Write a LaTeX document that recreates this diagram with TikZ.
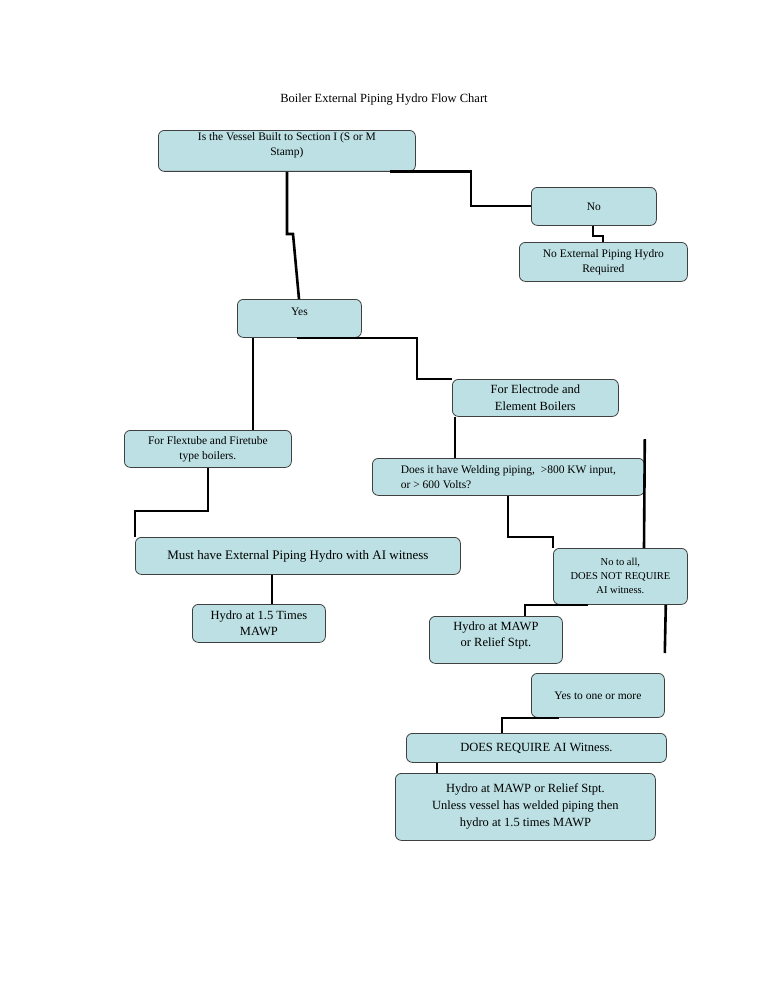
\documentclass[tikz,border=0pt]{standalone}
\usepackage{fontspec}
\setmainfont{Liberation Serif}
\begin{document}
\begin{tikzpicture}[x=1pt,y=-1pt,
  box/.style={draw=black!75,line width=0.8pt,fill=boxc,rounded corners=6pt,anchor=north west,align=center,inner sep=2pt,font=\fontsize{11.5}{15}\selectfont},
  wire/.style={line width=2.6pt,black}]
\definecolor{boxc}{HTML}{BCE0E3}
\useasboundingbox (0,0) rectangle (768,994);
\node[font=\fontsize{12.5}{15}\selectfont] (title) at (384,100) {Boiler External Piping Hydro Flow Chart};
\node[box,minimum width=257,minimum height=38,text depth=14pt] (q) at (158,130) {Is the Vessel Built to Section I (S or M\\Stamp)};
\node[box,minimum width=125,minimum height=38] (no) at (531,187) {No};
\node[box,minimum width=168,minimum height=39] (none) at (519,242) {No External Piping Hydro\\Required};
\node[box,minimum width=124,minimum height=38,text depth=14pt] (yes) at (237,299) {Yes};
\node[box,minimum width=166,minimum height=37,font=\fontsize{12.5}{17}\selectfont] (elec) at (452,379) {For Electrode and\\Element Boilers};
\node[box,minimum width=167,minimum height=37] (flex) at (124,430) {For Flextube and Firetube\\type boilers.};
\node[box,minimum width=272,minimum height=37,align=left] (weld) at (372,458) {Does it have Welding piping,\ \ >800 KW input,\\or > 600 Volts?};
\node[box,minimum width=325,minimum height=37,font=\fontsize{13}{15}\selectfont] (must) at (135,537) {Must have External Piping Hydro with AI witness};
\node[box,minimum width=134,minimum height=56,font=\fontsize{10.5}{14}\selectfont] (noall) at (553,548) {No to all,\\DOES NOT REQUIRE\\AI witness.};
\node[box,minimum width=133,minimum height=38,font=\fontsize{12.5}{16}\selectfont] (h15) at (192,604) {Hydro at 1.5 Times\\MAWP};
\node[box,minimum width=133,minimum height=47,text depth=12pt,font=\fontsize{12.5}{16}\selectfont] (hm) at (429,616) {Hydro at MAWP\\or Relief Stpt.};
\node[box,minimum width=133,minimum height=44] (yes1) at (531,673) {Yes to one or more};
\node[box,minimum width=260,minimum height=29,font=\fontsize{12.5}{15}\selectfont] (req) at (406,733) {DOES REQUIRE AI Witness.};
\node[box,minimum width=260,minimum height=67,font=\fontsize{12.5}{17}\selectfont] (final) at (395,773) {Hydro at MAWP or Relief Stpt.\\Unless vessel has welded piping then\\hydro at 1.5 times MAWP};
% connectors
\draw[wire] ([xshift=232pt]q.south west) -| ([yshift=-19pt]no.north west -| 471,0) -- ([yshift=-19pt]no.north west);
\draw[wire] ([xshift=129pt]q.south west) |- (293,234) -- ([xshift=62pt]yes.north west);
\draw[wire] ([xshift=62pt]no.south west) |- (603,236) -- ([xshift=84pt]none.north west);
\draw[wire] ([xshift=16pt]yes.south west) -- ([xshift=129pt]flex.north west);
\draw[wire] ([xshift=60pt]yes.south west) -| (417,379) -- ([yshift=-0pt]elec.north west);
\draw[wire] ([xshift=3pt]elec.south west) -- ([xshift=83pt]weld.north west);
\draw[wire] ([xshift=84pt]flex.south west) |- (135,511) -- (must.north west);
\draw[wire] ([xshift=136pt]weld.south west) |- (553,537) -- (noall.north west);
\draw[wire] ([yshift=19pt]weld.north east) -- ([xshift=91pt]noall.north west);
\draw[wire] ([xshift=137pt]must.south west) -- ([xshift=80pt]h15.north west);
\draw[wire] ([xshift=35pt]noall.south west) -- ([xshift=-28pt]noall.south west) -- ([xshift=96pt]hm.north west);
\draw[wire] ([xshift=-22pt]noall.south east) -- ([yshift=20pt]yes1.north east);
\draw[wire] ([xshift=28pt]yes1.south west) -| ([xshift=96pt]req.north west);
\draw[wire] ([xshift=31pt]req.south west) -- ([xshift=42pt]final.north west);
\end{tikzpicture}
\end{document}
